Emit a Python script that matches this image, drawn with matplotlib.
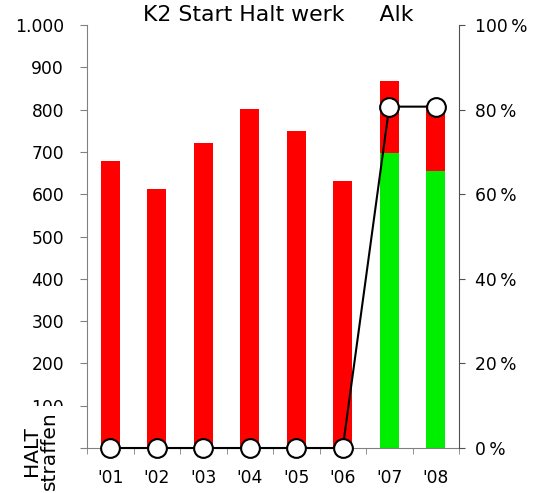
import matplotlib
matplotlib.use("Agg")
import matplotlib.pyplot as plt
from matplotlib.ticker import FuncFormatter, FixedLocator
import numpy as np

plt.rcParams['font.family'] = ['DejaVu Sans']

years = ["'01", "'02", "'03", "'04", "'05", "'06", "'07", "'08"]
totals = [679, 612, 721, 801, 749, 631, 868, 812]
green = [0, 0, 0, 0, 0, 0, 697, 656]
red = [t - g for t, g in zip(totals, green)]
pct = [0, 0, 0, 0, 0, 0, 80.7, 80.7]

fig = plt.figure(figsize=(5.45, 4.93), dpi=100)
ax = fig.add_axes([87/545, 45/493, 372/545, 423/493])
x = np.arange(len(years))
w = 0.4
ax.bar(x, green, width=w, color='#00ee00', zorder=2)
ax.bar(x, red, width=w, bottom=green, color='#ff0000', zorder=2)
ax.set_xlim(-0.5, len(years) - 0.5)
ax.set_ylim(0, 1000)
ax.set_yticks(np.arange(0, 1001, 100))
ax.yaxis.set_major_formatter(FuncFormatter(lambda v, p: f"{int(v):,}".replace(",", ".")))
ax.set_xticks(x)
ax.set_xticklabels(years)
ax.xaxis.set_minor_locator(FixedLocator(np.arange(-0.5, len(years), 1)))
ax.tick_params(axis='x', which='major', length=0, pad=15, labelsize=12.3)
ax.tick_params(axis='x', which='minor', length=4.5, direction='out', color='#808080')
ax.tick_params(axis='y', length=5, direction='out', color='#808080', labelsize=12.3, pad=11.5)
for s in ['top', 'right']:
    ax.spines[s].set_visible(False)
ax.spines['left'].set_color('#808080')
ax.spines['bottom'].set_color('#808080')

ax2 = ax.twinx()
ax2.plot(x, pct, color='black', lw=1.5, marker='o', markersize=13.5,
         markerfacecolor='white', markeredgecolor='black', markeredgewidth=1.5,
         zorder=5, clip_on=False)
ax2.set_ylim(0, 100)
ax2.set_yticks(np.arange(0, 101, 20))
ax2.yaxis.set_major_formatter(FuncFormatter(lambda v, p: f"{int(v)}\u2009%"))
ax2.tick_params(axis='y', length=4.5, direction='out', color='#505050', labelsize=12.3, pad=7)
for s in ['top', 'left', 'bottom']:
    ax2.spines[s].set_visible(False)
ax2.spines['right'].set_color('#505050')

ax.set_title("K2 Start Halt werk     Alk", fontsize=15.8, pad=0, x=0.515)

fig.text(40.5/545, (493-451)/493, "HALT\nstraffen", rotation=90, fontsize=14.5,
         ha='center', va='center', multialignment='center', linespacing=0.95,
         bbox=dict(facecolor='white', edgecolor='none', pad=4), zorder=10)

fig.savefig("out.png", dpi=100)
